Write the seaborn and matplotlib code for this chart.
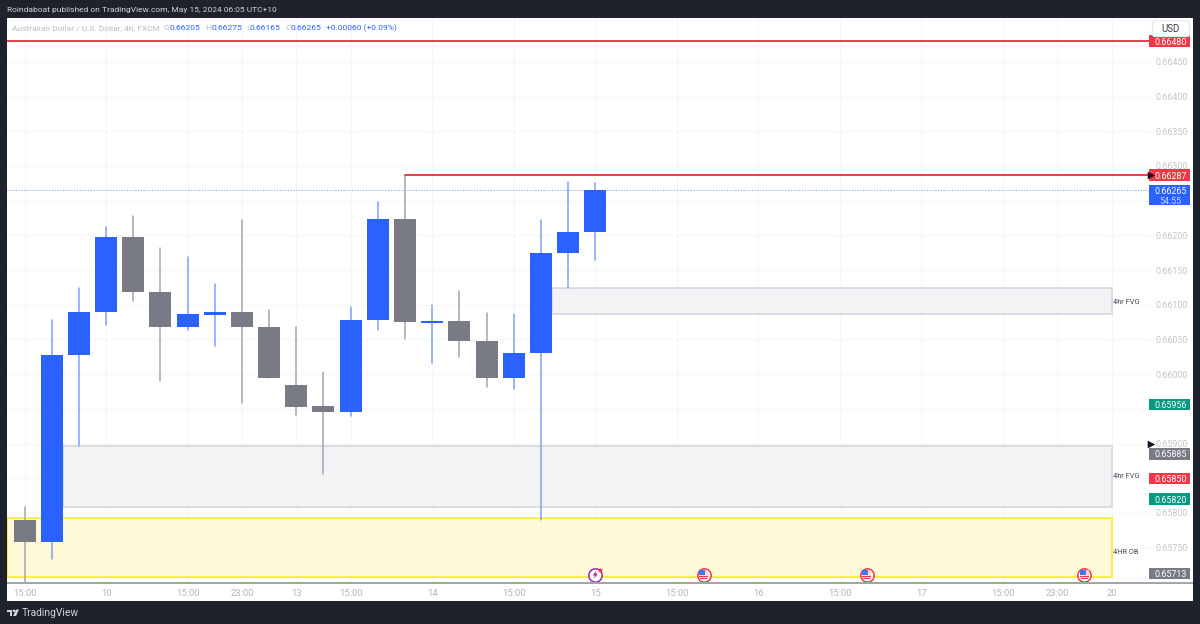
import numpy as np
import pandas as pd
import matplotlib
matplotlib.use("Agg")
import matplotlib.pyplot as plt
import seaborn as sns
from matplotlib.patches import Rectangle, FancyBboxPatch, Polygon, Circle

opens  = [0.65790,0.65758,0.66027,0.66089,0.66198,0.66118,0.66068,0.66085,0.66090,0.66068,0.65984,0.65954,0.65946,0.66078,0.66223,0.66074,0.66077,0.66048,0.65995,0.66030,0.66174,0.66205]
closes = [0.65758,0.66027,0.66089,0.66198,0.66118,0.66068,0.66086,0.66090,0.66068,0.65995,0.65953,0.65946,0.66078,0.66223,0.66075,0.66077,0.66048,0.65995,0.66030,0.66174,0.66205,0.66265]
highs  = [0.65808,0.66078,0.66124,0.66212,0.66228,0.66182,0.66169,0.66130,0.66222,0.66093,0.66068,0.66003,0.66097,0.66248,0.66287,0.66100,0.66120,0.66088,0.66087,0.66222,0.66277,0.66275]
lows   = [0.65700,0.65734,0.65897,0.66071,0.66105,0.65990,0.66064,0.66040,0.65959,0.65995,0.65941,0.65856,0.65939,0.66064,0.66050,0.66016,0.66025,0.65981,0.65979,0.65790,0.66124,0.66165]

tick_pos    = [0, 3, 6, 8, 10, 12, 15, 18, 21, 24, 27, 30, 33, 36, 38, 40]
tick_labels = ["15:00","10","15:00","23:00","13","15:00","14","15:00","15","15:00","16","15:00","17","15:00","23:00","20"]
price_ticks = [0.6575,0.6580,0.6585,0.6590,0.6595,0.6600,0.6605,0.6610,0.6615,0.6620,0.6625,0.6630,0.6635,0.6640,0.6645]
covered_ticks = [0.6585, 0.6595, 0.6625]

res_top, res_mid = 0.66480, 0.66287
last_price = 0.66265
zones = [("4hr FVG",19.4,0.66124,0.66087,0.66103,"#f3f3f6","#d8dae2"),
         ("4hr FVG",1.4,0.65897,0.65809,0.65853,"#f3f3f6","#d8dae2"),
         ("4HR OB",-0.645,0.65792,0.65708,0.65743,"#fff9d8","#ffeb3b")]
tag_prices = [0.66480,0.66287,0.65956,0.65885,0.65850,0.65820,0.65713]
tag_colors = ["#f23645","#f23645","#089981","#787b86","#f23645","#089981","#787b86"]
flag_bars = [25, 31, 39]
bolt_bar = 21
BLUE, GREY = "#2962ff", "#787b86"

sns.set_theme(style="white")
plt.rcParams["font.family"] = ["Roboto", "DejaVu Sans"]

W, H = 1200, 624
fig = plt.figure(figsize=(12, 6.24), dpi=100, facecolor="#1e222d")

def rect(l, t, r, b):
    return [l/W, 1-b/H, (r-l)/W, (b-t)/H]

back = fig.add_axes(rect(7, 17.5, 1193, 600.5), facecolor="white", zorder=0)
back.set_xticks([]); back.set_yticks([])
for s in back.spines.values():
    s.set_visible(False)

ax = fig.add_axes(rect(7, 17.5, 1148.5, 583), facecolor="white", zorder=1)

# candles
idx = np.arange(len(opens))
o, c, h, l = map(np.array, (opens, closes, highs, lows))
up = c >= o
wick = pd.DataFrame({"id": np.r_[idx, idx], "x": np.r_[idx, idx], "y": np.r_[h, l],
                     "up": np.r_[up, up]})
for flag, col in ((True, "#7f9fff"), (False, "#a3a5ae")):
    sns.lineplot(data=wick[wick.up == flag], x="x", y="y", units="id", estimator=None,
                 color=col, lw=1.1, ax=ax, legend=False, zorder=3, sort=False)
for flag, col in ((True, BLUE), (False, GREY)):
    m = up == flag
    lo = np.minimum(o[m], c[m])
    sns.barplot(x=idx[m], y=np.abs(c[m]-o[m]), bottom=lo, native_scale=True, color=col,
                saturation=1, width=0.81, errorbar=None, linewidth=0, ax=ax, zorder=4)

# zones
for name, x0, top_p, bot_p, lab_p, fc, ec in zones:
    ax.add_patch(Rectangle((x0, bot_p), 40-x0, top_p-bot_p, fc=fc, ec=ec, lw=1.3, zorder=2))
    ax.text(40.04, lab_p, name, fontsize=5.3, color="#434651", va="center", ha="left", clip_on=False, zorder=6)

# price lines
ax.axhline(res_top, color="#e5303e", lw=1.3, zorder=5)
ax.plot([14, 41.5], [res_mid, res_mid], color="#e5303e", lw=1.3, zorder=5)
ax.axhline(last_price, color=BLUE, lw=0.8, ls=(0, (1, 1.5)), alpha=0.55, zorder=2)

ax.set_xlim(-0.645, 41.36)
ax.set_ylim(0.65699, 0.66514)
ax.set_xlabel(""); ax.set_ylabel("")
ax.set_xticks(tick_pos); ax.set_xticklabels(tick_labels)
ax.set_yticks(price_ticks)
ax.set_yticklabels(["" if p in covered_ticks else f"{p:.5f}" for p in price_ticks])
ax.yaxis.tick_right()
ax.tick_params(axis="x", length=0, pad=4.5, labelsize=6.8, labelcolor="#b2b5be")
ax.tick_params(axis="y", length=0, pad=4.8, labelsize=6.4, labelcolor="#c3c5cc")
ax.grid(True, color="#f5f6f8", lw=0.8, zorder=0)
ax.set_axisbelow(True)
for s in ax.spines.values():
    s.set_visible(False)

# event markers (positioned from bar index and a small px offset)
PX, PY = 1/27.18, 1/69400
ev_y = 0.65711
def pr(i, dx, dy, w, h_, col):
    ax.add_patch(Rectangle((i+dx*PX, ev_y-(dy+h_)*PY), w*PX, h_*PY, fc=col, ec="none", zorder=8, clip_on=False))
ax.scatter(flag_bars, [ev_y]*len(flag_bars), s=92, facecolor="white", edgecolor="#f23645", lw=1.1, zorder=7, clip_on=False)
for b in flag_bars:
    pr(b, -4.5, -4.5, 9, 9, "#fbd4d7")
    pr(b, -4.5, -4.5, 6, 4.5, "#3d7bf5")
    pr(b, -4.5, 1.2, 9, 1.4, "#f23645")
    pr(b, -3.5, 3.6, 7, 1.2, "#f23645")
ax.scatter([bolt_bar], [ev_y], s=92, facecolor="white", edgecolor="#9c27b0", lw=1.1, zorder=7, clip_on=False)
bolt = [(1.3,-4.2),(-2.6,0.8),(-0.3,0.8),(-1.3,4.2),(2.6,-1.0),(0.3,-1.0)]
ax.add_patch(Polygon([(bolt_bar+a*PX, ev_y-b*PY) for a, b in bolt], fc="#9c27b0", ec="none", zorder=8, clip_on=False))
ax.scatter([bolt_bar+4.4*PX], [ev_y+4.4*PY], s=8, color="#f23645", lw=0, zorder=9, clip_on=False)

# price scale tags
sc = fig.add_axes(rect(1148.5, 17.5, 1193, 583), zorder=2)
sc.patch.set_alpha(0)
sc.set_xlim(0, 44.5); sc.set_ylim(ax.get_ylim())
sc.axis("off")
tag_h = 11.2*PY
sc.barh(tag_prices, 41, left=0.5, height=tag_h, color=tag_colors, lw=0)
for p in tag_prices:
    sc.text(22, p, f"{p:.5f}", color="white", fontsize=6.4, ha="center", va="center_baseline")
sc.add_patch(Rectangle((0.5, last_price-14.6*PY), 41, 20*PY, fc=BLUE, ec="none"))
sc.text(22, last_price, f"{last_price:.5f}", color="white", fontsize=6.4, ha="center", va="center_baseline")
sc.text(22, last_price-9.8*PY, "54:55", color="#c9d6ff", fontsize=6.4, ha="center", va="center_baseline")
sc.scatter([2.5, 2.5], [res_mid, 0.65900], marker=">", s=30, color="#131722", lw=0, zorder=5, clip_on=False)

# chrome in pixel coordinates
top = fig.add_axes([0, 0, 1, 1], zorder=3)
top.patch.set_alpha(0)
top.set_xlim(0, W); top.set_ylim(H, 0)
top.axis("off")
top.plot([7, 1193], [583.2, 583.2], color="#a0a3ab", lw=1.4, solid_capstyle="butt")
top.add_patch(FancyBboxPatch((1152.5, 21), 37, 15.5, boxstyle="round,pad=0,rounding_size=2.5", fc="white", ec="#e6e8ee", lw=0.9))
top.text(1171, 28.8, "USD", color="#3a3d48", fontsize=7.0, ha="center", va="center")
top.text(7, 10, "Roindaboat published on TradingView.com, May 15, 2024 06:05 UTC+10", color="#d1d4dc", fontsize=6.05, va="center", ha="left")
top.text(12, 28, "Australian Dollar / U.S. Dollar, 4h, FXCM", color="#b8bac2", fontsize=6.0, va="center", ha="left")
for x, s, col in [(163,"O","#b8bac2"),(169,"0.66205",BLUE),(205,"H","#b8bac2"),(211,"0.66275",BLUE),
                  (246,"L","#b8bac2"),(250,"0.66165",BLUE),(285,"C","#b8bac2"),(290.5,"0.66265",BLUE),
                  (326,"+0.00060 (+0.09%)",BLUE)]:
    top.text(x, 28, s, color=col, fontsize=6.1, va="center", ha="left")
top.text(22, 613, "TradingView", color="#d1d4dc", fontsize=7.4, va="center", ha="left")
top.add_patch(Polygon([(7,609.5),(12.3,609.5),(12.3,616),(9.6,616),(9.6,612),(7,612)], fc="#d1d4dc", ec="none"))
top.add_patch(Circle((14, 610.8), 1.3, fc="#d1d4dc", ec="none"))
top.add_patch(Polygon([(16,609.5),(19,609.5),(16,616),(13,616)], fc="#d1d4dc", ec="none"))

fig.savefig("out.png", dpi=100, facecolor=fig.get_facecolor())
